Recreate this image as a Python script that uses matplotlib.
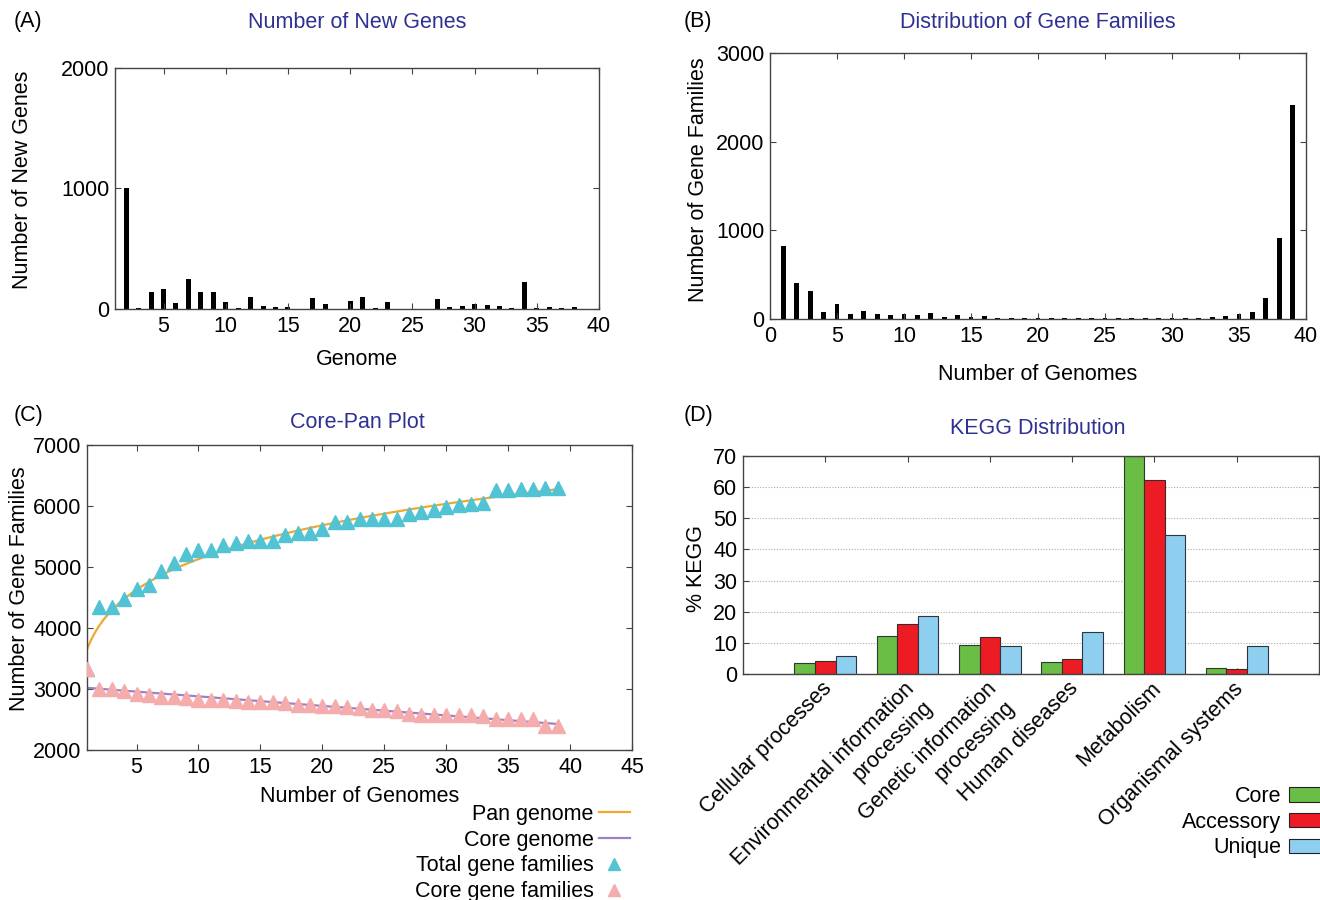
import numpy as np
import matplotlib
matplotlib.use("Agg")
import matplotlib.pyplot as plt
from matplotlib.lines import Line2D
from matplotlib.patches import Patch
from matplotlib.transforms import ScaledTranslation

plt.rcParams['font.family'] = ['Liberation Sans', 'DejaVu Sans']
FS = 15.5
plt.rcParams['font.size'] = FS

# ---------------- data ----------------
# (A) number of new genes per added genome
genome_a = list(range(2, 40))
new_genes = [1000, 5, 140, 170, 47, 245, 140, 137, 56, 5, 98, 28, 20, 14, 2,
             95, 42, 2, 64, 103, 11, 61, 3, 2, 3, 81, 20, 28, 45, 33, 25, 11,
             223, 8, 17, 8, 17, 0]

# (B) distribution of gene families
genome_b = list(range(1, 40))
gene_families = [823, 411, 317, 79, 166, 57, 87, 57, 49, 60, 45, 72, 26, 42, 19,
                 30, 15, 8, 15, 11, 8, 8, 8, 8, 6, 8, 8, 8, 8, 8, 8, 8, 26, 30,
                 53, 79, 238, 909, 2408]

# (C) core-pan plot
genome_c = list(range(1, 40))
total_families = [3330, 4337, 4337, 4473, 4641, 4701, 4934, 5071, 5208, 5273,
                  5273, 5366, 5393, 5421, 5421, 5421, 5519, 5557, 5557, 5623,
                  5732, 5732, 5792, 5792, 5792, 5792, 5874, 5902, 5929, 5984,
                  6011, 6038, 6049, 6257, 6257, 6273, 6273, 6295, 6295]
core_families = [3330, 3005, 3000, 2962, 2923, 2907, 2868, 2863, 2852, 2824,
                 2824, 2813, 2797, 2791, 2780, 2780, 2769, 2742, 2731, 2725,
                 2714, 2698, 2687, 2659, 2659, 2643, 2593, 2577, 2577, 2577,
                 2571, 2566, 2560, 2505, 2505, 2505, 2505, 2401, 2401]

# (D) KEGG distribution
kegg_categories = ["Cellular processes", "Environmental information\nprocessing",
                   "Genetic information\nprocessing", "Human diseases",
                   "Metabolism", "Organismal systems"]
kegg_core = [3.5, 12.3, 9.3, 3.8, 70.0, 2.0]
kegg_accessory = [4.1, 16.2, 11.9, 4.8, 62.3, 1.5]
kegg_unique = [5.9, 18.6, 8.9, 13.6, 44.7, 8.9]

# ---------------- styling ----------------
W, H = 1320, 900
TITLE_C = "#2e3192"
SPINE_C = "#444444"

fig = plt.figure(figsize=(W / 100, H / 100), dpi=100)


def ax_px(l, t, r, b):
    ax = fig.add_axes([l / W, 1 - b / H, (r - l) / W, (b - t) / H])
    ax._px = (l, t, r, b)
    return ax


def ftext(x, y, s, **kw):
    fig.text(x / W, 1 - y / H, s, **kw)


def style(ax):
    for sp in ax.spines.values():
        sp.set_color(SPINE_C)
        sp.set_linewidth(1.0)
    ax.tick_params(direction='in', top=True, right=True, length=4,
                   color=SPINE_C, labelsize=FS)
    ax.tick_params(axis='x', pad=5)
    ax.tick_params(axis='y', pad=4)


def place_labels(ax, xlab, ylab, xl_y, yl_x, yl_y):
    """Place axis labels at pixel centres (figure pixel coordinates)."""
    l, t, r, b = ax._px
    if xlab:
        ax.set_xlabel(xlab, fontsize=FS)
        ax.xaxis.label.set_va('center')
        ax.xaxis.set_label_coords(0.5, (b - xl_y) / (b - t))
    ax.set_ylabel(ylab, fontsize=FS)
    ax.yaxis.label.set_va('center')
    ax.yaxis.set_label_coords((yl_x - l) / (r - l), (b - yl_y) / (b - t))


# ---------- (A) ----------
axA = ax_px(115, 68, 599, 309)
style(axA)
axA.bar(genome_a, new_genes, width=0.4, color='black')
axA.set_xlim(1.1, 40)
axA.set_ylim(0, 2000)
axA.set_xticks(range(5, 41, 5))
axA.set_yticks([0, 1000, 2000])
place_labels(axA, "Genome", "Number of New Genes", 360, 22, 180)
ftext(357, 23, "Number of New Genes", color=TITLE_C, ha='center', va='center', fontsize=FS)
ftext(14, 22, "(A)", ha='left', va='center', fontsize=FS)

# ---------- (B) ----------
axB = ax_px(770, 53, 1306, 319)
style(axB)
axB.bar(genome_b, gene_families, width=0.35, color='black')
axB.set_xlim(0, 40)
axB.set_ylim(0, 3000)
axB.set_xticks(range(0, 41, 5))
axB.set_yticks([0, 1000, 2000, 3000])
place_labels(axB, "Number of Genomes", "Number of Gene Families", 375, 698, 180)
ftext(1038, 22, "Distribution of Gene Families", color=TITLE_C, ha='center', va='center', fontsize=FS)
ftext(684, 22, "(B)", ha='left', va='center', fontsize=FS)

# ---------- (C) ----------
axC = ax_px(87, 445, 632, 750)
style(axC)
xc = np.array(genome_c, dtype=float)
tc = np.array(total_families, dtype=float)
cc = np.array(core_families, dtype=float)
bp, lap = np.polyfit(np.log(xc), np.log(tc), 1)
xfit = np.linspace(1, 39, 300)
pan_fit = np.exp(lap) * xfit ** bp
cs, ci = np.polyfit(xc, cc, 1)
core_fit = cs * xfit + ci
PAN_C, CORE_C = "#f0a830", "#a07fc8"
TOT_C, CF_C = "#52c3d3", "#f4acac"
axC.plot(xfit, pan_fit, color=PAN_C, lw=1.6, zorder=2)
axC.plot(xfit, core_fit, color=CORE_C, lw=1.6, zorder=2)
axC.plot(xc, tc, linestyle='none', marker='^', ms=9.5, color=TOT_C, zorder=3)
axC.plot(xc, cc, linestyle='none', marker='^', ms=9.5, color=CF_C, zorder=4)
axC.set_xlim(1, 45)
axC.set_ylim(2000, 7000)
axC.set_xticks(range(5, 46, 5))
axC.set_yticks(range(2000, 7001, 1000))
place_labels(axC, "Number of Genomes", "Number of Gene Families", 797, 20, 589)
ftext(357, 423, "Core-Pan Plot", color=TITLE_C, ha='center', va='center', fontsize=FS)
ftext(14, 416, "(C)", ha='left', va='center', fontsize=FS)
hC = [Line2D([], [], color=PAN_C, lw=1.6),
      Line2D([], [], color=CORE_C, lw=1.6),
      Line2D([], [], ls='none', marker='^', ms=8, color=TOT_C),
      Line2D([], [], ls='none', marker='^', ms=8, color=CF_C)]
fig.legend(hC, ["Pan genome", "Core genome", "Total gene families", "Core gene families"],
           loc='upper right', bbox_to_anchor=(630 / W, 1 - 804 / H),
           markerfirst=False, frameon=False, fontsize=FS, handlelength=1.45,
           handletextpad=0.25, labelspacing=0.22, borderpad=0, borderaxespad=0)

# ---------- (D) ----------
axD = ax_px(743, 456, 1319, 674)
style(axD)
pos = np.arange(1, len(kegg_categories) + 1)
bw = 0.25
GREEN, RED, BLUE = "#6abd45", "#ed1c24", "#8ecff0"
axD.set_axisbelow(True)
axD.yaxis.grid(True, linestyle=(0, (1, 1.5)), color='#aaaaaa', lw=0.8)
axD.bar(pos - bw, kegg_core, width=bw, color=GREEN, edgecolor='#2b3a2b', lw=0.8)
axD.bar(pos, kegg_accessory, width=bw, color=RED, edgecolor='#3a2b2b', lw=0.8)
axD.bar(pos + bw, kegg_unique, width=bw, color=BLUE, edgecolor='#2b3440', lw=0.8)
axD.set_xlim(0, 7)
axD.set_ylim(0, 70)
axD.set_yticks(range(0, 71, 10))
axD.set_xticks(pos)
axD.set_xticklabels(kegg_categories, rotation=45, ha='right', va='top',
                    rotation_mode='anchor', multialignment='right',
                    linespacing=1.3, fontsize=FS)
axD.tick_params(axis='x', pad=3)
shift = ScaledTranslation(-4 / 100, 0, fig.dpi_scale_trans)
for lab in axD.get_xticklabels():
    lab.set_transform(lab.get_transform() + shift)
place_labels(axD, None, "% KEGG", None, 697, 569)
ftext(1038, 429, "KEGG Distribution", color=TITLE_C, ha='center', va='center', fontsize=FS)
ftext(684, 416, "(D)", ha='left', va='center', fontsize=FS)
hD = [Patch(facecolor=GREEN, edgecolor='#222222', lw=0.8),
      Patch(facecolor=RED, edgecolor='#222222', lw=0.8),
      Patch(facecolor=BLUE, edgecolor='#222222', lw=0.8)]
fig.legend(hD, ["Core", "Accessory", "Unique"], loc='upper right',
           bbox_to_anchor=(1330 / W, 1 - 786 / H), markerfirst=False, frameon=False,
           fontsize=FS, handlelength=1.9, handleheight=0.65, handletextpad=0.35,
           labelspacing=0.22, borderpad=0, borderaxespad=0)

fig.savefig("out.png", dpi=100)
